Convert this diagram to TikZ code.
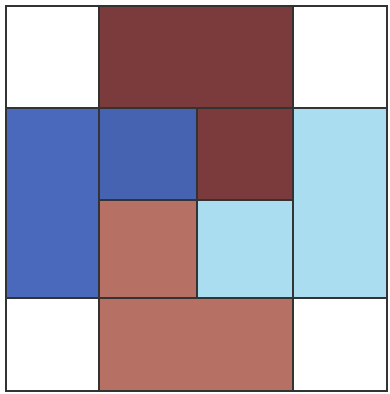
\documentclass[tikz,border=0pt]{standalone}
\definecolor{darkbrown}{HTML}{7B3A3C}
\definecolor{pencilblue}{HTML}{4A68BC}
\definecolor{lightcyan}{HTML}{A9DDEF}
\definecolor{lightbrown}{HTML}{B67064}
\definecolor{pencil}{HTML}{333333}
\tikzset{gridline/.style={draw=pencil,line width=1.3pt}}
\begin{document}
\begin{tikzpicture}[x=1pt,y=-1pt]
\useasboundingbox (0,0) rectangle (389,394);
\fill[white] (0,0) rectangle (389,394);
% fills
\fill[darkbrown] (99,6) rectangle (293,108);
\fill[darkbrown] (197,108) rectangle (293,200);
\fill[pencilblue] (6,108) rectangle (99,298);
\fill[pencilblue!95!black] (99,108) rectangle (197,200);
\fill[lightcyan] (293,108) rectangle (387,298);
\fill[lightcyan] (197,200) rectangle (293,298);
\fill[lightbrown] (99,200) rectangle (197,298);
\fill[lightbrown] (99,298) rectangle (293,391);
% grid lines
\draw[gridline] (6,6) rectangle (387,391);
\draw[gridline] (6,108) -- (387,108);
\draw[gridline] (6,298) -- (387,298);
\draw[gridline] (99,200) -- (293,200);
\draw[gridline] (99,6) -- (99,391);
\draw[gridline] (293,6) -- (293,391);
\draw[gridline] (197,108) -- (197,298);
\end{tikzpicture}
\end{document}
